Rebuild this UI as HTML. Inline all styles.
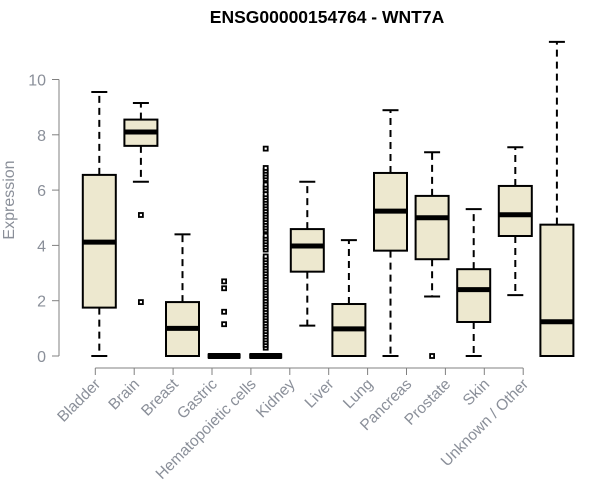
<!DOCTYPE html>
<html><head><meta charset="utf-8"><style>
body{margin:0;background:#fff;}
svg{display:block;font-family:"Liberation Sans",Arial,sans-serif;}
</style></head><body>
<svg id="chart" width="600" height="500">
<text x="327" y="23" text-anchor="middle" font-weight="bold" font-size="17.5" fill="#000">ENSG00000154764 - WNT7A</text>
<text transform="translate(14,200) rotate(-90)" text-anchor="middle" font-size="16" fill="#8a8f99">Expression</text>
<g id="plot"></g>
</svg>
<script>
const categories=["Bladder","Brain","Breast","Gastric","Hematopoietic cells","Kidney","Liver","Lung","Pancreas","Prostate","Skin","Unknown / Other"];
const whiskLow=[0,6.3,0,0,0,1.1,0,0,2.15,0,2.2,0];
const q1=[1.75,7.6,0,0,0,3.05,0,3.81,3.5,1.23,4.34,0];
const medians=[4.12,8.1,1.0,0,0,3.98,0.98,5.24,5.0,2.4,5.11,1.24];
const q3=[6.55,8.55,1.95,0,0,4.59,1.88,6.62,5.79,3.14,6.15,4.75];
const whiskHigh=[9.55,9.15,4.4,0,0,6.3,4.19,8.89,7.37,5.31,7.55,11.36];
const outBrain=[5.1,1.95];
const outGastric=[1.15,1.6,2.45,2.7];
const outHemato=[0.3,0.4,0.5,0.6,0.7,0.8,0.9,1.0,1.1,1.2,1.3,1.4,1.5,1.6,1.7,1.8,1.9,2.0,2.1,2.2,2.3,2.4,2.5,2.6,2.7,2.8,2.9,3.0,3.1,3.2,3.3,3.4,3.5,3.6,3.85,3.95,4.05,4.15,4.25,4.35,4.55,4.65,4.75,4.85,4.95,5.05,5.15,5.25,5.35,5.45,5.55,5.65,5.75,5.85,6.0,6.1,6.2,6.4,6.5,6.6,6.7,6.8,7.5];
const outPancreas=[0];
const yTicks=[0,2,4,6,8,10];
const ns="http://www.w3.org/2000/svg";
const g=document.getElementById('plot');
function y(v){return 356-v*27.65;}
function xc(i){return 99.3+41.6*i;}
function el(t,a){const e=document.createElementNS(ns,t);for(const k in a)e.setAttribute(k,a[k]);g.appendChild(e);return e;}
let ax=el('line',{x1:59,x2:59,y1:y(0),y2:y(10),stroke:'#808080','stroke-width':1});


yTicks.forEach(t=>{
 const l=el('line',{x1:52,x2:59,y1:y(t),y2:y(t),stroke:'#808080'});
 
 
 const tx=el('text',{x:46,y:y(t)+6,'text-anchor':'end','font-size':16,fill:'#8a8f99'});
 tx.textContent=t;
 
 
});
const tx0=95.3,tstep=38.9;
let xa=el('line',{x1:tx0,x2:tx0+tstep*11,y1:368,y2:368,stroke:'#808080'});


categories.forEach((c,i)=>{
 const x=tx0+tstep*i;
 const l=el('line',{x1:x,x2:x,y1:368,y2:375,stroke:'#808080'});
 
 
 const t=el('text',{x:x+6,y:385,'text-anchor':'end','font-size':15.5,fill:'#8a8f99',transform:`rotate(-45 ${x+6} 385)`});
 t.textContent=c;
 
 
});
function outl(i,arr){arr.forEach(v=>{
 const r=el('rect',{x:xc(i)-2,y:y(v)-2,width:4,height:4,fill:'#fff',stroke:'#000','stroke-width':1.8});
 
 
});}
categories.forEach((c,i)=>{
 const x=xc(i),hw=16.5;
 const w1=el('line',{x1:x,x2:x,y1:y(q3[i]),y2:y(whiskHigh[i]),stroke:'#000','stroke-width':2,'stroke-dasharray':'7,5'});
 
 
 const w2=el('line',{x1:x,x2:x,y1:y(q1[i]),y2:y(whiskLow[i]),stroke:'#000','stroke-width':2,'stroke-dasharray':'7,5'});
 
 
 [whiskHigh[i],whiskLow[i]].forEach(v=>{
  const cp=el('line',{x1:x-8,x2:x+8,y1:y(v),y2:y(v),stroke:'#000','stroke-width':2});
  
  
 });
 const b=el('rect',{x:x-hw,y:y(q3[i]),width:hw*2,height:Math.max(y(q1[i])-y(q3[i]),0),fill:'#ede8cf',stroke:'#000','stroke-width':2});
 
 
 const m=el('line',{x1:x-hw,x2:x+hw,y1:y(medians[i]),y2:y(medians[i]),stroke:'#000','stroke-width':5});
 
 
});
outl(1,outBrain);outl(3,outGastric);outl(4,outHemato);outl(8,outPancreas);
[3,4].forEach(i=>{
 const r=el('rect',{x:xc(i)-16,y:y(0)-3,width:32,height:6,fill:'#000'});
 
 
});
</script>
</body></html>
